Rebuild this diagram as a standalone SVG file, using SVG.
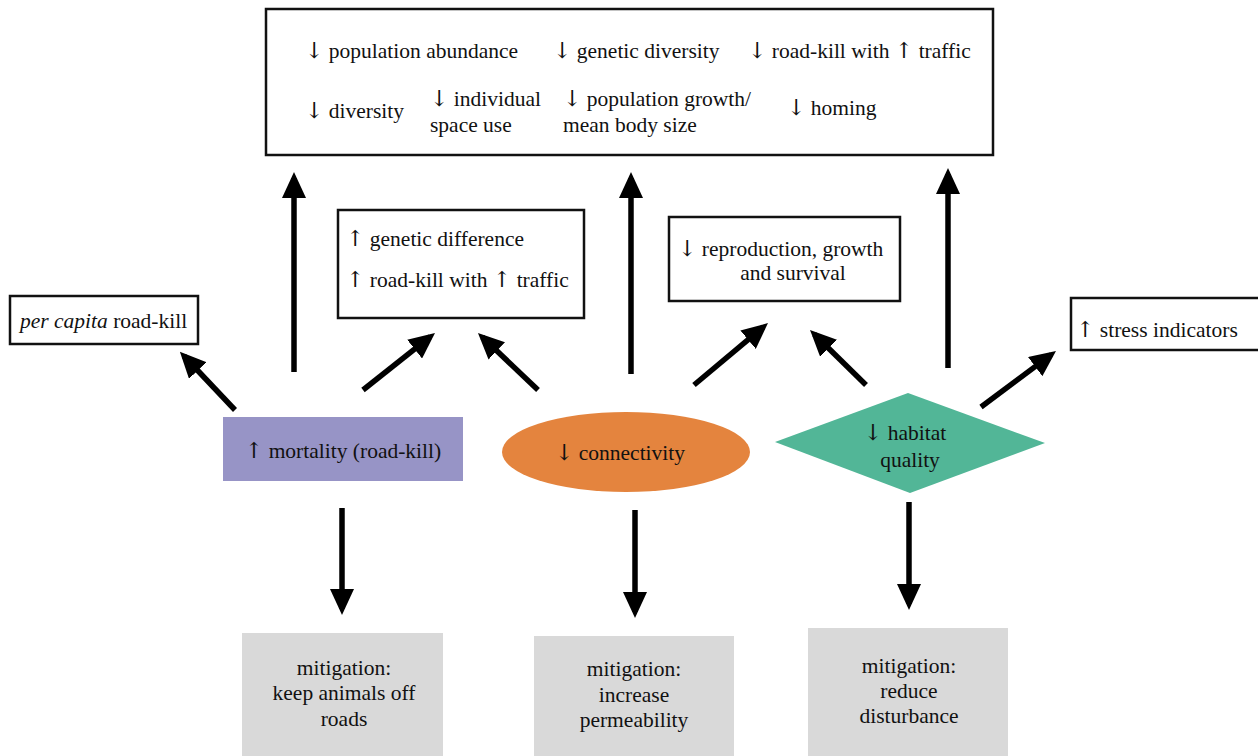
<svg xmlns="http://www.w3.org/2000/svg" width="1258" height="756" viewBox="0 0 1258 756">
<defs>
<style>
text{font-family:"Liberation Serif","Times New Roman",serif;font-size:21.5px;fill:#111}
.c{text-anchor:middle}
.a{font-family:"DejaVu Serif","DejaVu Sans",sans-serif;font-size:22px;fill:#111}
.box{fill:#fff;stroke:#111;stroke-width:2.5}
.mit{fill:#d9d9d9;stroke:none}
.arr{stroke:#000;stroke-width:5.5;fill:none;marker-end:url(#ah)}
</style>
<marker id="ah" markerUnits="userSpaceOnUse" markerWidth="26" markerHeight="24" refX="20" refY="12" orient="auto">
<path d="M0,0 L26,12 L0,24 z" fill="#000"/>
</marker>
</defs>
<rect width="1258" height="756" fill="#fff"/>
<g id="outcomes">
<rect class="box" x="266" y="9" width="727" height="146"/>
<text x="305" y="58"><tspan class="a">↓</tspan> population abundance</text>
<text x="553" y="58"><tspan class="a">↓</tspan> genetic diversity</text>
<text x="748" y="58"><tspan class="a">↓</tspan> road-kill with <tspan class="a">↑</tspan> traffic</text>
<text x="305" y="118"><tspan class="a">↓</tspan> diversity</text>
<text x="430" y="106"><tspan class="a">↓</tspan> individual</text>
<text x="430" y="132">space use</text>
<text x="563" y="106"><tspan class="a">↓</tspan> population growth/</text>
<text x="563" y="132">mean body size</text>
<text x="787" y="115"><tspan class="a">↓</tspan> homing</text>
</g>
<g id="percapita">
<rect class="box" x="10" y="296" width="188" height="48"/>
<text x="20" y="328"><tspan font-style="italic">per capita</tspan> road-kill</text>
</g>
<g id="genetic">
<rect class="box" x="338" y="210" width="246" height="108"/>
<text x="346" y="246"><tspan class="a">↑</tspan> genetic difference</text>
<text x="346" y="287"><tspan class="a">↑</tspan> road-kill with <tspan class="a">↑</tspan> traffic</text>
</g>
<g id="reproduction">
<rect class="box" x="669" y="217" width="231" height="84"/>
<text x="678" y="256"><tspan class="a">↓</tspan>  reproduction, growth</text>
<text class="c" x="793" y="280">and survival</text>
</g>
<g id="stress">
<rect class="box" x="1071" y="298" width="200" height="52"/>
<text x="1076" y="337"><tspan class="a">↑</tspan> stress indicators</text>
</g>
<g id="mortality">
<rect x="223" y="417" width="240" height="64" fill="#9794c6"/>
<text class="c" x="343" y="458"><tspan class="a">↑</tspan> mortality (road-kill)</text>
</g>
<g id="connectivity">
<ellipse cx="626" cy="452" rx="124" ry="40" fill="#e4843e"/>
<text class="c" x="620" y="460"><tspan class="a">↓</tspan> connectivity</text>
</g>
<g id="habitat">
<polygon points="775,442 908,393 1045,443 910,493" fill="#52b697"/>
<text class="c" x="905" y="440"><tspan class="a">↓</tspan> habitat</text>
<text class="c" x="910" y="467">quality</text>
</g>
<g id="mit1">
<rect class="mit" x="242" y="633" width="201" height="123"/>
<text class="c" x="344" y="675">mitigation:</text>
<text class="c" x="344" y="700">keep animals off</text>
<text class="c" x="344" y="726">roads</text>
</g>
<g id="mit2">
<rect class="mit" x="534" y="636" width="200" height="120"/>
<text class="c" x="634" y="676">mitigation:</text>
<text class="c" x="634" y="702">increase</text>
<text class="c" x="634" y="727">permeability</text>
</g>
<g id="mit3">
<rect class="mit" x="808" y="628" width="200" height="128"/>
<text class="c" x="909" y="673">mitigation:</text>
<text class="c" x="909" y="698">reduce</text>
<text class="c" x="909" y="723">disturbance</text>
</g>
<g id="connectors">
<line class="arr" x1="294" y1="372" x2="294" y2="178"/>
<line class="arr" x1="631" y1="374" x2="631" y2="178"/>
<line class="arr" x1="948" y1="368" x2="948" y2="174"/>
<line class="arr" x1="235" y1="410" x2="184" y2="356"/>
<line class="arr" x1="363" y1="390" x2="430.3" y2="336.7"/>
<line class="arr" x1="538" y1="390" x2="482.3" y2="337.1"/>
<line class="arr" x1="694" y1="385" x2="763.4" y2="326.9"/>
<line class="arr" x1="866" y1="385" x2="814.3" y2="334.2"/>
<line class="arr" x1="981" y1="407" x2="1051.2" y2="354.6"/>
<line class="arr" x1="342" y1="508" x2="342" y2="609"/>
<line class="arr" x1="635" y1="510" x2="635" y2="612"/>
<line class="arr" x1="909" y1="502" x2="909" y2="604"/>
</g>
</svg>
